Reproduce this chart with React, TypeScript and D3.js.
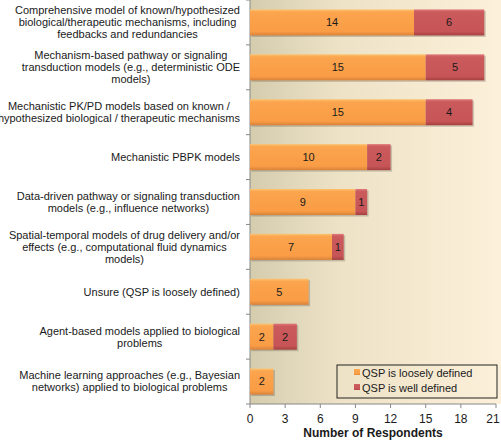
import React from "react";
import * as d3 from "d3";

const categories: string[][] = [
  ["Comprehensive model of known/hypothesized", "biological/therapeutic mechanisms, including", "feedbacks and redundancies"],
  ["Mechanism-based pathway or signaling", "transduction models (e.g., deterministic ODE", "models)"],
  ["Mechanistic PK/PD models based on known /", "hypothesized biological / therapeutic mechanisms"],
  ["Mechanistic PBPK models"],
  ["Data-driven pathway or signaling transduction", "models (e.g., influence networks)"],
  ["Spatial-temporal models of drug delivery and/or", "effects (e.g., computational fluid dynamics", "models)"],
  ["Unsure (QSP is loosely defined)"],
  ["Agent-based models applied to biological", "problems"],
  ["Machine learning approaches (e.g., Bayesian", "networks) applied to biological problems"],
];
const loosely: number[] = [14, 15, 15, 10, 9, 7, 5, 2, 2];
const well: number[] = [6, 5, 4, 2, 1, 1, 0, 2, 0];
const xTicks: number[] = [0, 3, 6, 9, 12, 15, 18, 21];
const seriesNames: string[] = ["QSP is loosely defined", "QSP is well defined"];

const W = 501, H = 440;
const left = 250, right = 496, top = 0, bottom = 404;
const labelFont = "11px 'Liberation Sans', Arial, sans-serif";

let ctx: CanvasRenderingContext2D | null = null;
function measure(s: string): number {
  if (!ctx && typeof document !== "undefined") {
    ctx = document.createElement("canvas").getContext("2d");
  }
  if (!ctx) return s.length * 5.3;
  ctx.font = labelFont;
  return ctx.measureText(s).width;
}

export default function App() {
  const x = d3.scaleLinear().domain([0, 21]).range([left, right]);
  const y = d3.scaleBand<number>().domain(d3.range(categories.length)).range([top, bottom]).paddingInner(0.42).paddingOuter(0.21);
  const step = y.step();
  const font = "'Liberation Sans', Arial, sans-serif";

  const bar = (x0: number, x1: number, yy: number, fill: string, key: string) => {
    const bw = x(x1) - x(x0);
    return (
      <g key={key}>
        <rect x={x(x0) + 1.5} y={yy + 1.5} width={bw} height={y.bandwidth()} fill="#000" opacity={0.18} />
        <rect x={x(x0)} y={yy} width={bw} height={y.bandwidth()} fill={fill} />
      </g>
    );
  };

  return (
    <svg width={W} height={H} style={{ position: "absolute", left: 0, top: 0 }} fontFamily={font}>
      <defs>
        <linearGradient id="bg" x1="0" x2="1" y1="0" y2="0">
          <stop offset="0" stopColor="#d5ccae" />
          <stop offset="0.35" stopColor="#ede2c6" />
          <stop offset="1" stopColor="#fdf0da" />
        </linearGradient>
        <linearGradient id="org" x1="0" x2="0" y1="0" y2="1">
          <stop offset="0" stopColor="#fcc472" />
          <stop offset="0.1" stopColor="#fba54e" />
          <stop offset="0.85" stopColor="#f99c45" />
          <stop offset="1" stopColor="#d9813a" />
        </linearGradient>
        <linearGradient id="red" x1="0" x2="0" y1="0" y2="1">
          <stop offset="0" stopColor="#e07a7c" />
          <stop offset="0.1" stopColor="#cb5a5c" />
          <stop offset="0.85" stopColor="#c75557" />
          <stop offset="1" stopColor="#a6403f" />
        </linearGradient>
      </defs>
      <rect x={left} y={top} width={W - left} height={bottom - top} fill="url(#bg)" />
      {categories.map((lines, i) => {
        const cy = (y(i) as number) + y.bandwidth() / 2;
        const lh = 12;
        const y0 = cy - ((lines.length - 1) * lh) / 2;
        const maxW = Math.max(...lines.map(measure));
        const cx = 240 - maxW / 2;
        return (
          <text key={"l" + i} textAnchor="middle" fontSize={11} fill="#1a1a1a">
            {lines.map((ln, j) => (
              <tspan key={j} x={cx} y={y0 + j * lh} dy="0.35em">{ln}</tspan>
            ))}
          </text>
        );
      })}
      {d3.range(categories.length + 1).map((i) => (
        <line key={"yt" + i} x1={left - 4} x2={left} y1={top + i * step} y2={top + i * step} stroke="#888" />
      ))}
      <line x1={left} x2={left} y1={top} y2={bottom} stroke="#888" />
      <line x1={left} x2={right} y1={bottom} y2={bottom} stroke="#888" />
      {xTicks.map((t) => (
        <g key={"xt" + t}>
          <line x1={x(t)} x2={x(t)} y1={bottom} y2={bottom + 4} stroke="#888" />
          <text x={Math.min(x(t), 493)} y={419} textAnchor="middle" fontSize={12} dy="0.35em" fill="#1a1a1a">{t}</text>
        </g>
      ))}
      <text x={x(10.5)} y={433} textAnchor="middle" fontSize={12} fontWeight="bold" dy="0.35em" fill="#1a1a1a">Number of Respondents</text>
      {loosely.map((v, i) => {
        const yy = y(i) as number;
        const w = well[i];
        const cy = yy + y.bandwidth() / 2;
        return (
          <g key={"b" + i}>
            {bar(0, v, yy, "url(#org)", "o")}
            {w > 0 && bar(v, v + w, yy, "url(#red)", "r")}
            <text x={x(v / 2)} y={cy} textAnchor="middle" dy="0.35em" fontSize={11} fill="#1a1a1a">{v}</text>
            {w > 0 && <text x={x(v + w / 2)} y={cy} textAnchor="middle" dy="0.35em" fontSize={11} fill="#1a1a1a">{w}</text>}
          </g>
        );
      })}
      <g>
        <rect x={337} y={365} width={160} height={33} fill="none" stroke="#222" strokeWidth={1} />
        {seriesNames.map((n, i) => (
          <g key={"lg" + i}>
            <rect x={354} y={372 + i * 15 - 3} width={6} height={6} fill={i === 0 ? "url(#org)" : "url(#red)"} />
            <text x={362} y={373 + i * 15} dy="0.35em" fontSize={11} fill="#1a1a1a">{n}</text>
          </g>
        ))}
      </g>
    </svg>
  );
}
